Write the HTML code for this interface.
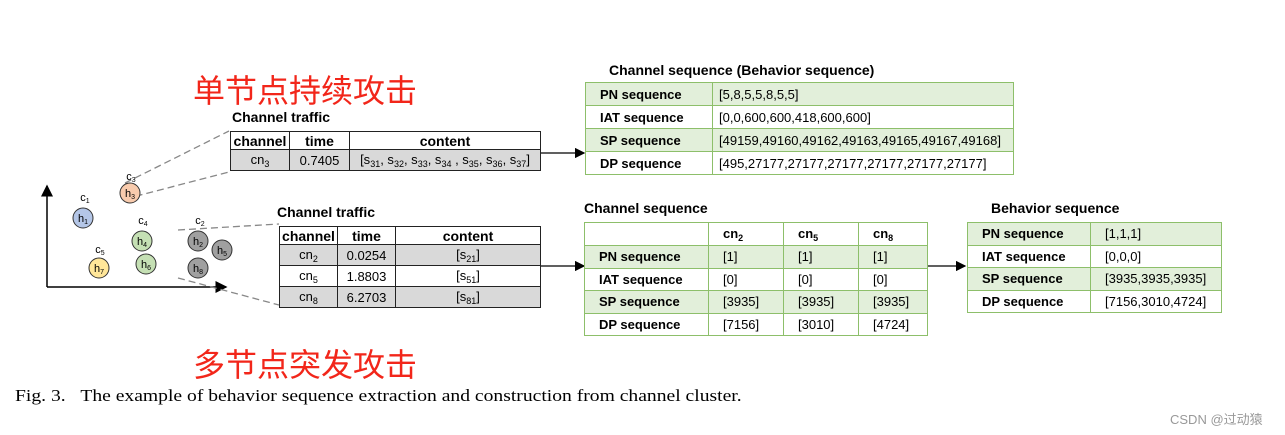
<!DOCTYPE html>
<html><head><meta charset="utf-8"><style>
body{margin:0;width:1285px;height:435px;background:#fff;position:relative;overflow:hidden;font-family:"Liberation Sans",Arial,sans-serif;}
.a{position:absolute;}
table{position:absolute;border-collapse:collapse;font-size:13px;}
td{padding:0 0 0 0;white-space:nowrap;}
.t1 td{border:1.5px solid #222;text-align:center;}
.t1 .h td{font-weight:bold;font-size:14px;}
.t1 .g td{background:#d9d9d9;}
.t2 td{border:1.5px solid #8dbf6a;padding-left:14px;text-align:left;}
.t2 td.b{font-weight:bold;}
.t2 tr.g td{background:#e2efda;}
.lbl{font-weight:bold;font-size:14px;}
.red{color:#f2261a;font-size:32px;font-family:"Liberation Sans","Noto Sans CJK SC",sans-serif;}
sub{font-size:9px;vertical-align:-3px;}
</style></head><body>
<div class="a red" style="left:193px;top:66px;">单节点持续攻击</div>
<div class="a red" style="left:193px;top:340px;">多节点突发攻击</div>

<svg class="a" style="left:0;top:0" width="1285" height="435">
<defs><marker id="ar" markerWidth="8" markerHeight="8" refX="7" refY="4" orient="auto"><path d="M0,0L8,4L0,8z" fill="#000"/></marker></defs>
<line x1="47" y1="287" x2="47" y2="186" stroke="#000" stroke-width="1.5" marker-end="url(#ar)"/>
<line x1="47" y1="287" x2="226" y2="287" stroke="#000" stroke-width="1.5" marker-end="url(#ar)"/>
<g stroke="#888" stroke-width="1.3" stroke-dasharray="7,4" fill="none">
<line x1="125" y1="183" x2="229" y2="131"/>
<line x1="125" y1="199" x2="229" y2="172"/>
<line x1="178" y1="230" x2="279" y2="224"/>
<line x1="178" y1="278" x2="279" y2="305"/>
</g>
<g stroke="#333" stroke-width="1">
<circle cx="83" cy="218" r="10" fill="#b4c6e7"/>
<circle cx="130" cy="193" r="10" fill="#f8cbad"/>
<circle cx="142" cy="241" r="10" fill="#c5e0b4"/>
<circle cx="146" cy="264" r="10" fill="#c5e0b4"/>
<circle cx="99" cy="268" r="10" fill="#ffe699"/>
<circle cx="198" cy="241" r="10" fill="#a0a0a0"/>
<circle cx="222" cy="250" r="10" fill="#a0a0a0"/>
<circle cx="198" cy="268" r="10" fill="#a0a0a0"/>
</g>
<g font-family="Liberation Sans" font-size="11" text-anchor="middle">
<text x="83" y="222">h<tspan font-size="7" dy="2">1</tspan></text>
<text x="130" y="197">h<tspan font-size="7" dy="2">3</tspan></text>
<text x="142" y="245">h<tspan font-size="7" dy="2">4</tspan></text>
<text x="146" y="268">h<tspan font-size="7" dy="2">6</tspan></text>
<text x="99" y="272">h<tspan font-size="7" dy="2">7</tspan></text>
<text x="198" y="245">h<tspan font-size="7" dy="2">2</tspan></text>
<text x="222" y="254">h<tspan font-size="7" dy="2">5</tspan></text>
<text x="198" y="272">h<tspan font-size="7" dy="2">8</tspan></text>
<text x="85" y="201">c<tspan font-size="7" dy="2">1</tspan></text>
<text x="131" y="180">c<tspan font-size="7" dy="2">3</tspan></text>
<text x="143" y="224">c<tspan font-size="7" dy="2">4</tspan></text>
<text x="100" y="253">c<tspan font-size="7" dy="2">5</tspan></text>
<text x="200" y="224">c<tspan font-size="7" dy="2">2</tspan></text>
</g>
<line x1="541" y1="153" x2="584" y2="153" stroke="#000" stroke-width="1.3" marker-end="url(#ar)"/>
<line x1="541" y1="266" x2="584" y2="266" stroke="#000" stroke-width="1.3" marker-end="url(#ar)"/>
<line x1="928" y1="266" x2="965" y2="266" stroke="#000" stroke-width="1.3" marker-end="url(#ar)"/>
</svg>

<div class="a lbl" style="left:232px;top:109px;">Channel traffic</div>
<table class="t1" style="left:230px;top:131px;width:311px;">
<tr class="h" style="height:18px"><td style="width:58px">channel</td><td style="width:59px">time</td><td>content</td></tr>
<tr class="g" style="height:21px"><td>cn<sub>3</sub></td><td>0.7405</td><td>[s<sub>31</sub>, s<sub>32</sub>, s<sub>33</sub>, s<sub>34</sub> , s<sub>35</sub>, s<sub>36</sub>, s<sub>37</sub>]</td></tr>
</table>

<div class="a lbl" style="left:277px;top:204px;">Channel traffic</div>
<table class="t1" style="left:279px;top:226px;width:262px;">
<tr class="h" style="height:18px"><td style="width:57px">channel</td><td style="width:57px">time</td><td>content</td></tr>
<tr class="g" style="height:21px"><td>cn<sub>2</sub></td><td>0.0254</td><td>[s<sub>21</sub>]</td></tr>
<tr style="height:21px"><td>cn<sub>5</sub></td><td>1.8803</td><td>[s<sub>51</sub>]</td></tr>
<tr class="g" style="height:21px"><td>cn<sub>8</sub></td><td>6.2703</td><td>[s<sub>81</sub>]</td></tr>
</table>

<div class="a lbl" style="left:609px;top:62px;">Channel sequence (Behavior sequence)</div>
<table class="t2" style="left:585px;top:82px;width:429px;">
<tr class="g" style="height:23px"><td class="b" style="width:112px">PN sequence</td><td style="padding-left:6px">[5,8,5,5,8,5,5]</td></tr>
<tr style="height:23px"><td class="b">IAT sequence</td><td style="padding-left:6px">[0,0,600,600,418,600,600]</td></tr>
<tr class="g" style="height:23px"><td class="b">SP sequence</td><td style="padding-left:6px">[49159,49160,49162,49163,49165,49167,49168]</td></tr>
<tr style="height:23px"><td class="b">DP sequence</td><td style="padding-left:6px">[495,27177,27177,27177,27177,27177,27177]</td></tr>
</table>

<div class="a lbl" style="left:584px;top:200px;">Channel sequence</div>
<table class="t2" style="left:584px;top:222px;width:344px;">
<tr style="height:23px"><td style="width:109px"></td><td class="b" style="width:60px">cn<sub>2</sub></td><td class="b" style="width:60px">cn<sub>5</sub></td><td class="b">cn<sub>8</sub></td></tr>
<tr class="g" style="height:22.5px"><td class="b">PN sequence</td><td>[1]</td><td>[1]</td><td>[1]</td></tr>
<tr style="height:22.5px"><td class="b">IAT sequence</td><td>[0]</td><td>[0]</td><td>[0]</td></tr>
<tr class="g" style="height:22.5px"><td class="b">SP sequence</td><td>[3935]</td><td>[3935]</td><td>[3935]</td></tr>
<tr style="height:22.5px"><td class="b">DP sequence</td><td>[7156]</td><td>[3010]</td><td>[4724]</td></tr>
</table>

<div class="a lbl" style="left:991px;top:200px;">Behavior sequence</div>
<table class="t2" style="left:967px;top:222px;width:255px;">
<tr class="g" style="height:22.5px"><td class="b" style="width:108px">PN sequence</td><td>[1,1,1]</td></tr>
<tr style="height:22.5px"><td class="b">IAT sequence</td><td>[0,0,0]</td></tr>
<tr class="g" style="height:22.5px"><td class="b">SP sequence</td><td>[3935,3935,3935]</td></tr>
<tr style="height:22.5px"><td class="b">DP sequence</td><td>[7156,3010,4724]</td></tr>
</table>

<div class="a" style="left:15px;top:386px;font-family:'Liberation Serif',serif;font-size:17px;white-space:nowrap;transform:scaleX(1.153);transform-origin:0 0;">Fig. 3.&nbsp;&nbsp;&nbsp;The example of behavior sequence extraction and construction from channel cluster.</div>
<div class="a" style="left:1170px;top:409px;font-size:13px;color:#999;font-family:'Liberation Sans','Noto Sans CJK SC',sans-serif;">CSDN @过动猿</div>
</body></html>
